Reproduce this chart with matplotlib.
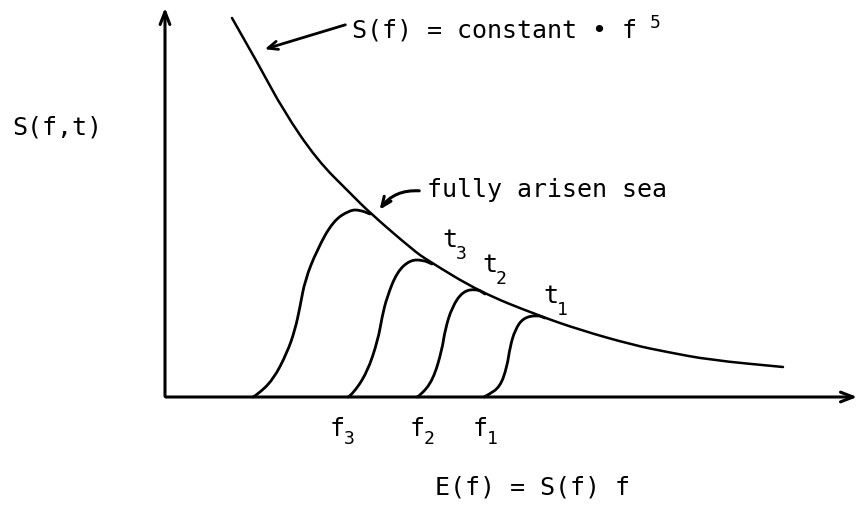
import matplotlib
matplotlib.use("Agg")
import matplotlib.pyplot as plt
from matplotlib.path import Path
from matplotlib.patches import PathPatch

# limiting spectrum S(f) ~ f^-5 (f, S in arbitrary units)
env_f = [0.67, 0.95, 1.18, 1.52, 1.85, 2.05, 2.48, 2.62, 3.15, 3.72, 4.15, 4.68, 5.02, 5.45, 6.18]
env_s = [3.79, 3.30, 2.87, 2.37, 2.04, 1.84, 1.47, 1.37, 1.05, 0.82, 0.67, 0.52, 0.45, 0.37, 0.30]

# growing spectra at successive times (fully arisen, t3, t2, t1)
sea_f = [0.88, 0.92, 1.08, 1.22, 1.30, 1.35, 1.40, 1.52, 1.68, 1.85, 1.95, 2.05]
sea_s = [0.00, 0.02, 0.17, 0.44, 0.67, 0.90, 1.17, 1.47, 1.76, 1.87, 1.87, 1.83]
t3_f = [1.83, 1.87, 2.02, 2.13, 2.17, 2.22, 2.32, 2.45, 2.58, 2.67]
t3_s = [0.00, 0.02, 0.24, 0.57, 0.80, 1.00, 1.25, 1.37, 1.37, 1.33]
t2_f = [2.52, 2.56, 2.68, 2.77, 2.80, 2.87, 2.98, 3.12, 3.20]
t2_s = [0.00, 0.02, 0.17, 0.47, 0.67, 0.90, 1.06, 1.08, 1.03]
t1_f = [3.19, 3.23, 3.35, 3.42, 3.45, 3.50, 3.58, 3.72, 3.80]
t1_s = [0.00, 0.02, 0.10, 0.30, 0.50, 0.67, 0.79, 0.82, 0.79]

t_labels = ["3", "2", "1"]
t_pos = [(2.77, 1.50), (3.17, 1.25), (3.78, 0.94)]
f_labels = ["3", "2", "1"]
f_pos = [1.65, 2.45, 3.08]

mono = "DejaVu Sans Mono"
fs = 18
fs_sub = 13


def smooth_curve(ax, xs, ys, lw):
    # quadratic bezier through midpoints, read points act as control points
    pts = list(zip(xs, ys))
    verts = [pts[0]]
    codes = [Path.MOVETO]
    for i in range(1, len(pts) - 1):
        mid = ((pts[i][0] + pts[i + 1][0]) / 2, (pts[i][1] + pts[i + 1][1]) / 2)
        verts += [pts[i], mid]
        codes += [Path.CURVE3, Path.CURVE3]
    verts.append(pts[-1])
    codes.append(Path.LINETO)
    ax.add_patch(PathPatch(Path(verts, codes), fill=False, lw=lw, edgecolor="black",
                           capstyle="round", joinstyle="round"))


fig = plt.figure(figsize=(8.62, 5.30), dpi=100)
ax = fig.add_axes([0, 0, 1, 1])
ax.set_xlim(-1.65, 6.97)
ax.set_ylim(-1.33, 3.97)
ax.axis("off")

# axes with arrow heads
ax.annotate("", xy=(0, 3.92), xytext=(0, -0.02),
            arrowprops=dict(arrowstyle="->,head_length=0.9,head_width=0.35", lw=2.2, color="black"))
ax.annotate("", xy=(6.95, 0.0), xytext=(-0.02, 0.0),
            arrowprops=dict(arrowstyle="->,head_length=0.9,head_width=0.35", lw=2.2, color="black"))

smooth_curve(ax, env_f, env_s, 1.8)
for ff, ss in [(sea_f, sea_s), (t3_f, t3_s), (t2_f, t2_s), (t1_f, t1_s)]:
    smooth_curve(ax, ff, ss, 2.0)

# labels
ax.text(-1.53, 2.62, "S(f,t)", family=mono, fontsize=fs, ha="left", va="baseline")
ax.text(1.87, 3.60, "S(f) = constant \u2022 f", family=mono, fontsize=fs, ha="left", va="baseline")
ax.text(4.85, 3.69, "5", family=mono, fontsize=fs_sub, ha="left", va="baseline")
ax.annotate("", xy=(0.97, 3.47), xytext=(1.83, 3.73),
            arrowprops=dict(arrowstyle="->,head_length=0.7,head_width=0.3", lw=2.0, color="black"))

ax.text(2.62, 2.00, "fully arisen sea", family=mono, fontsize=fs, ha="left", va="baseline")
ax.annotate("", xy=(2.13, 1.85), xytext=(2.57, 2.06),
            arrowprops=dict(arrowstyle="->,head_length=0.7,head_width=0.3", lw=2.2, color="black",
                            connectionstyle="arc3,rad=0.3"))

for lab, (x, y) in zip(t_labels, t_pos):
    ax.text(x, y, "t", family=mono, fontsize=fs, ha="left", va="baseline")
    ax.text(x + 0.14, y - 0.12, lab, family=mono, fontsize=fs_sub, ha="left", va="baseline")

for lab, x in zip(f_labels, f_pos):
    ax.text(x, -0.39, "f", family=mono, fontsize=fs, ha="left", va="baseline")
    ax.text(x + 0.14, -0.47, lab, family=mono, fontsize=fs_sub, ha="left", va="baseline")

ax.text(2.70, -0.98, "E(f) = S(f) f", family=mono, fontsize=fs, ha="left", va="baseline")

fig.savefig("out.png", dpi=100, facecolor="white")
